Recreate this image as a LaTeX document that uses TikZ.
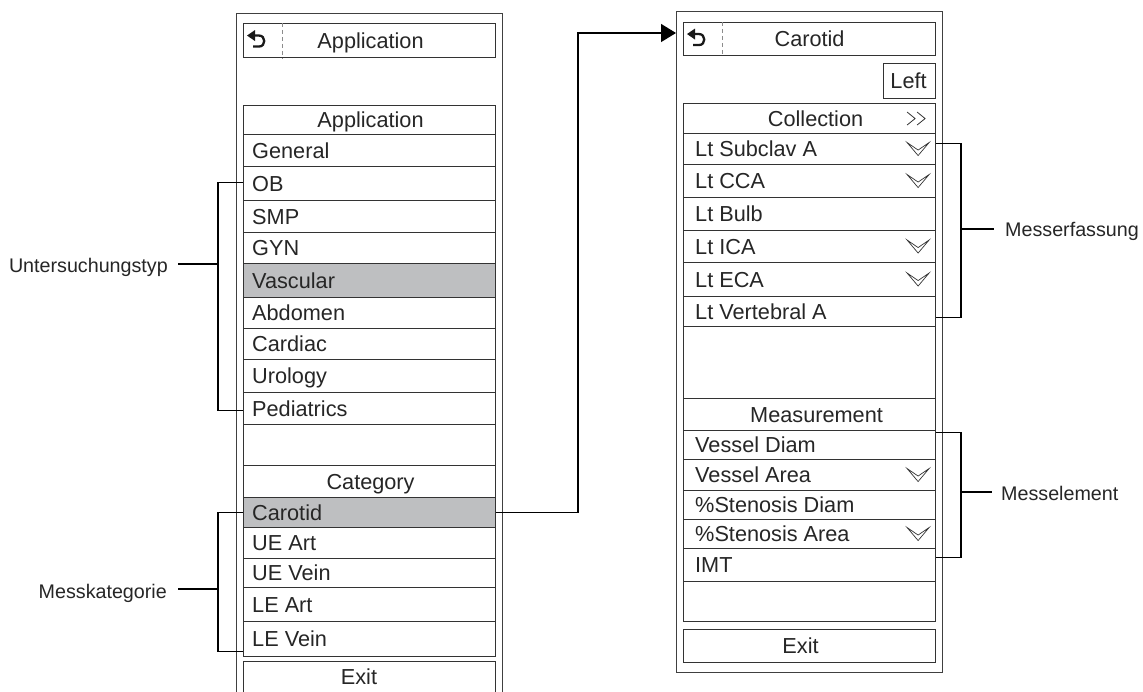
\documentclass[tikz,border=0pt]{standalone}
\usepackage{fontspec}
\setmainfont{Liberation Sans}
\usetikzlibrary{arrows.meta}
\definecolor{selgray}{RGB}{190,191,193}
\newcommand{\panelfont}{\fontsize{21.7pt}{26pt}\selectfont}
\newcommand{\labelfont}{\fontsize{19.7pt}{24pt}\selectfont}
\tikzset{
  frame/.style={draw=black!75, line width=1.3pt, inner sep=0pt, anchor=north west},
  rowbox/.style={draw=black!80, line width=1.1pt, inner sep=0pt, anchor=north west, minimum width=252pt},
  itxt/.style={anchor=west, inner sep=0pt, text height=15.5pt, text depth=0pt, font=\panelfont, text=black!85},
  ctxt/.style={anchor=center, inner sep=0pt, text height=15.5pt, text depth=0pt, font=\panelfont, text=black!85},
  lbl/.style={inner sep=0pt, text height=14.1pt, text depth=0pt, font=\labelfont, text=black!85},
  bracket/.style={draw=black, line width=1.3pt},
  sep/.style={draw=black!45, line width=0.8pt, dash pattern=on 4pt off 3pt},
  backicon/.pic={
    \fill[black!90] (0,0) -- (8,-5.5) -- (8,5.5) -- cycle;
    \draw[black!90, line width=2.3pt] (7,0) -- (12,0) .. controls (19,0) and (19,11) .. (12,11) -- (6,11);
  },
  chev/.pic={
    \draw[black!80, line width=0.7pt, line join=miter] (-11,-6.5) -- (0,6.5) -- (11,-6.5) -- (0,1) -- cycle;
  },
  dchev/.pic={
    \draw[black!80, line width=0.8pt] (-10,-6.5) -- (-2,0) -- (-10,6.5) (0,-6.5) -- (8,0) -- (0,6.5);
  }
}
\begin{document}
\begin{tikzpicture}[x=1pt,y=-1pt]
\clip (0,0) rectangle (1143,692);
\fill[white] (0,0) rectangle (1143,692);

% ---------- left panel ----------
\node[frame, minimum width=266pt, minimum height=720pt] (lp) at (236,13) {};
\node[rowbox, minimum height=34pt] (lh) at (243,23) {};
\draw[sep] ([xshift=39pt]lh.north west) -- ([xshift=39pt]lh.south west);
\pic at ([xshift=4pt,yshift=5pt]lh.west) {backicon};
\node[ctxt] (tlh) at ([xshift=1pt]lh.center) {Application};

\node[rowbox, minimum height=29pt] (la) at (243,105) {};
\node[rowbox, minimum height=32pt] (l1) at (243,134) {};
\node[rowbox, minimum height=34pt] (l2) at (243,166) {};
\node[rowbox, minimum height=32pt] (l3) at (243,200) {};
\node[rowbox, minimum height=31pt] (l4) at (243,232) {};
\node[rowbox, minimum height=34pt, fill=selgray] (l5) at (243,263) {};
\node[rowbox, minimum height=31pt] (l6) at (243,297) {};
\node[rowbox, minimum height=31pt] (l7) at (243,328) {};
\node[rowbox, minimum height=33pt] (l8) at (243,359) {};
\node[rowbox, minimum height=32pt] (l9) at (243,392) {};
\node[rowbox, minimum height=41pt] (le) at (243,424) {};
\node[rowbox, minimum height=32pt] (lc) at (243,465) {};
\node[rowbox, minimum height=30pt, fill=selgray] (m1) at (243,497) {};
\node[rowbox, minimum height=31pt] (m2) at (243,527) {};
\node[rowbox, minimum height=29pt] (m3) at (243,558) {};
\node[rowbox, minimum height=34pt] (m4) at (243,587) {};
\node[rowbox, minimum height=35pt] (m5) at (243,621) {};
\node[rowbox, minimum height=50pt] (lx) at (243,661) {};

\node[ctxt] (tla) at ([xshift=1pt]la.center) {Application};
\node[itxt] (tl1) at ([xshift=9pt]l1.west) {General};
\node[itxt] (tl2) at ([xshift=9pt]l2.west) {OB};
\node[itxt] (tl3) at ([xshift=9pt]l3.west) {SMP};
\node[itxt] (tl4) at ([xshift=9pt]l4.west) {GYN};
\node[itxt] (tl5) at ([xshift=9pt]l5.west) {Vascular};
\node[itxt] (tl6) at ([xshift=9pt]l6.west) {Abdomen};
\node[itxt] (tl7) at ([xshift=9pt]l7.west) {Cardiac};
\node[itxt] (tl8) at ([xshift=9pt]l8.west) {Urology};
\node[itxt] (tl9) at ([xshift=9pt]l9.west) {Pediatrics};
\node[ctxt] (tlc) at ([xshift=1pt]lc.center) {Category};
\node[itxt] (tm1) at ([xshift=9pt]m1.west) {Carotid};
\node[itxt] (tm2) at ([xshift=9pt]m2.west) {UE Art};
\node[itxt] (tm3) at ([xshift=9pt]m3.west) {UE Vein};
\node[itxt] (tm4) at ([xshift=9pt]m4.west) {LE Art};
\node[itxt] (tm5) at ([xshift=9pt]m5.west) {LE Vein};
\node[ctxt] (tlx) at (359,677) {Exit};

% ---------- right panel ----------
\node[frame, minimum width=266pt, minimum height=661pt] (rp) at (676,11) {};
\node[rowbox, minimum height=33pt] (rh) at (683,22) {};
\draw[sep] ([xshift=39pt]rh.north west) -- ([xshift=39pt]rh.south west);
\pic at ([xshift=4pt,yshift=5pt]rh.west) {backicon};
\node[ctxt] (trh) at (rh.center) {Carotid};
\node[rowbox, minimum width=52pt, minimum height=35pt] (rl) at (883,63) {};
\node[ctxt] (trl) at ([xshift=-1pt]rl.center) {Left};

\node[rowbox, minimum height=30pt] (ra) at (683,103) {};
\node[rowbox, minimum height=31pt] (r1) at (683,133) {};
\node[rowbox, minimum height=33pt] (r2) at (683,164) {};
\node[rowbox, minimum height=33pt] (r3) at (683,197) {};
\node[rowbox, minimum height=32pt] (r4) at (683,230) {};
\node[rowbox, minimum height=34pt] (r5) at (683,262) {};
\node[rowbox, minimum height=30pt] (r6) at (683,296) {};
\node[rowbox, minimum height=72pt] (re) at (683,326) {};
\node[rowbox, minimum height=32pt] (rm) at (683,398) {};
\node[rowbox, minimum height=29pt] (s1) at (683,430) {};
\node[rowbox, minimum height=31pt] (s2) at (683,459) {};
\node[rowbox, minimum height=29pt] (s3) at (683,490) {};
\node[rowbox, minimum height=29pt] (s4) at (683,519) {};
\node[rowbox, minimum height=33pt] (s5) at (683,548) {};
\node[rowbox, minimum height=40pt] (se) at (683,581) {};
\node[rowbox, minimum height=33pt] (rx) at (683,629) {};

\node[ctxt] (tra) at ([xshift=6pt]ra.center) {Collection};
\pic at ([xshift=-19pt]ra.east) {dchev};
\node[itxt] (tr1) at ([xshift=12pt]r1.west) {Lt Subclav A};
\node[itxt] (tr2) at ([xshift=12pt]r2.west) {Lt CCA};
\node[itxt] (tr3) at ([xshift=12pt]r3.west) {Lt Bulb};
\node[itxt] (tr4) at ([xshift=12pt]r4.west) {Lt ICA};
\node[itxt] (tr5) at ([xshift=12pt]r5.west) {Lt ECA};
\node[itxt] (tr6) at ([xshift=12pt]r6.west) {Lt Vertebral A};
\node[ctxt] (trm) at ([xshift=7pt]rm.center) {Measurement};
\node[itxt] (ts1) at ([xshift=12pt]s1.west) {Vessel Diam};
\node[itxt] (ts2) at ([xshift=12pt]s2.west) {Vessel Area};
\node[itxt] (ts3) at ([xshift=12pt]s3.west) {\%Stenosis Diam};
\node[itxt] (ts4) at ([xshift=12pt]s4.west) {\%Stenosis Area};
\node[itxt] (ts5) at ([xshift=12pt]s5.west) {IMT};
\node[ctxt] (trx) at ([xshift=-9pt]rx.center) {Exit};

\pic at ([xshift=-18pt]r1.east) {chev};
\pic at ([xshift=-18pt]r2.east) {chev};
\pic at ([xshift=-18pt]r4.east) {chev};
\pic at ([xshift=-18pt]r5.east) {chev};
\pic at ([xshift=-18pt]s2.east) {chev};
\pic at ([xshift=-18pt]s4.east) {chev};

% ---------- brackets and labels ----------
\draw[bracket] ([yshift=1pt]l2.west) -- ++(-25,0) |- ([yshift=-2pt]l9.west);
\node[lbl, anchor=east] (tU) at (168,265) {Untersuchungstyp};
\coordinate (uj) at (218,264);
\coordinate (ue) at (178,264);
\draw[bracket] (ue) -- (uj);

\draw[bracket] (m1.west) -- ++(-25,0) |- ([yshift=-12.5pt]m5.west);
\node[lbl, anchor=east] (tK) at (167,591) {Messkategorie};
\coordinate (kj) at (218,589);
\coordinate (ke) at (178,589);
\draw[bracket] (ke) -- (kj);

\draw[bracket] ([yshift=5.5pt]r1.east) -- ++(25,0) |- ([yshift=-6pt]r6.east);
\node[lbl, anchor=west] (tE) at (1005,229) {Messerfassung};
\coordinate (ej) at (960,229);
\coordinate (ee) at (994,229);
\draw[bracket] (ej) -- (ee);

\draw[bracket] ([yshift=12.5pt]s1.east) -- ++(25,0) |- ([yshift=7.5pt]s5.east);
\node[lbl, anchor=west] (tM) at (1001,493) {Messelement};
\coordinate (mj) at (960,492);
\coordinate (me) at (992,492);
\draw[bracket] (mj) -- (me);

% ---------- main connector ----------
\draw[bracket, -{Triangle[length=15pt,width=18pt]}] (m1.east) -- ++(82,0) |- ([yshift=-22pt]rp.north west);
\end{tikzpicture}
\end{document}
